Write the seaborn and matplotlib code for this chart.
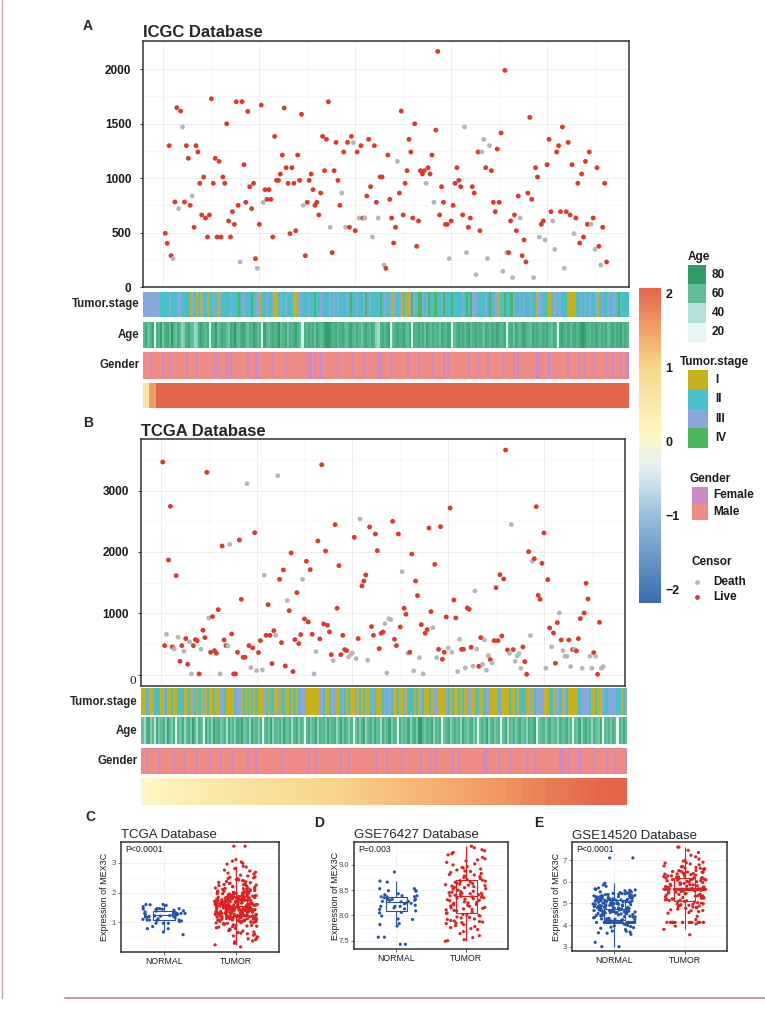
import numpy as np
import pandas as pd
import matplotlib.pyplot as plt
import seaborn as sns
from matplotlib.colors import ListedColormap, LinearSegmentedColormap, Normalize
from matplotlib.cm import ScalarMappable
from matplotlib.patches import Rectangle
from matplotlib.lines import Line2D
from matplotlib.ticker import MultipleLocator

# ---------------- data ----------------
# A: ICGC survival time (days) per sample, ordered by risk score, and censor status (L=Live, D=Death)
icgc_time = [
    495, 403, 1298, 290, 263, 782, 1646, 721, 1615, 1469,
    782, 1298, 1182, 751, 837, 550, 1298, 1240, 953, 663,
    1011, 635, 461, 663, 1728, 953, 1182, 461, 1154, 461,
    1011, 953, 1499, 608, 461, 693, 577, 1701, 751, 232,
    1701, 1124, 779, 1612, 922, 721, 953, 263, 174, 577,
    1670, 779, 895, 806, 895, 806, 461, 1383, 980, 980,
    1038, 1212, 1643, 1096, 953, 492, 1096, 953, 519, 1212,
    980, 1585, 751, 290, 779, 980, 1038, 895, 751, 779,
    663, 864, 1383, 1069, 1356, 1701, 550, 318, 1069, 1328,
    980, 751, 864, 1240, 550, 1328, 550, 1383, 1325, 519,
    1240, 635, 1298, 635, 635, 837, 1356, 922, 461, 1298,
    779, 635, 1011, 1011, 205, 174, 1212, 806, 635, 406,
    550, 1154, 864, 1615, 663, 953, 1069, 1356, 1240, 635,
    1499, 376, 608, 1069, 1038, 1069, 953, 1096, 1038, 1212,
    779, 1441, 2162, 663, 922, 779, 577, 577, 263, 608,
    751, 953, 1096, 980, 922, 663, 1469, 318, 550, 635,
    922, 864, 116, 1240, 519, 1240, 1356, 1096, 263, 1298,
    1069, 779, 693, 1267, 779, 1414, 147, 1988, 318, 318,
    608, 89, 663, 519, 837, 635, 290, 434, 232, 864,
    1557, 806, 89, 1096, 1011, 461, 577, 608, 434, 1124,
    1356, 693, 608, 348, 1240, 1298, 693, 1469, 174, 693,
    1328, 663, 1124, 492, 635, 953, 406, 1038, 461, 1154,
    577, 1240, 577, 635, 348, 1096, 376, 205, 550, 953, 232,
]
icgc_status = ("LLLLDLLDLD" "LLLLDLLLLL" "LLLLLLLLLL" "LLLLLLLLLD" "LLLLLLLLDL"
               "LDLLLLLLLL" "LLLLLLLLLL" "LLDLLLLLLL" "LLLLLLDLLL" "LLDLDLLLDL"
               "LDLLDLLLDL" "LDLLDLLLLL" "LDLLLLLLLL" "LLLLLLDLLL" "DLLLLLLLDL"
               "LLLLLLDDLL" "LLDLLDDLDD" "LLLLLLDLDL" "LDLLLDLLLL" "LLDLLDLLDL"
               "LLDDLLLLDL" "LLLDLLLLLL" "LLDLDLLDLLL")

# B: TCGA survival time (days) and censor status
tcga_time = [
    3467, 473, 658, 1870, 2745, 451, 418, 1614, 609, 217,
    473, 380, 587, 168, 533, 11, 473, 571, 554, 11,
    413, 723, 603, 3299, 924, 364, 946, 391, 348, 1060,
    11, 2098, 565, 473, 467, 2125, 663, 11, 11, 364,
    2196, 1228, 283, 283, 3114, 473, 114, 435, 2315, 65,
    359, 554, 76, 1620, 641, 1141, 641, 179, 717, 641,
    3245, 1554, 522, 1707, 141, 1207, 1043, 1984, 49, 571,
    1337, 505, 652, 1554, 908, 1848, 859, 1712, 658, 11,
    375, 2179, 582, 3424, 826, 2016, 804, 696, 326, 228,
    2446, 1082, 1777, 326, 641, 408, 391, 288, 326, 353,
    2239, 261, 587, 2538, 1446, 1527, 1625, 234, 2408, 783,
    641, 2293, 2022, 424, 674, 696, 832, 27, 913, 897,
    2500, 576, 473, 2293, 777, 1679, 1082, 984, 348, 364,
    1967, 60, 1527, 1288, 277, 815, 11, 674, 734, 2391,
    1027, 766, 1799, 277, 413, 2413, 250, 364, 940, 435,
    2717, 364, 1217, 924, 49, 576, 413, 413, 109, 1087,
    1065, 446, 136, 1364, 418, 136, 603, 168, 565, 71,
    310, 245, 190, 554, 1418, 554, 1630, 630, 1560, 3663,
    402, 348, 2446, 408, 217, 304, 342, 103, 451, 212,
    5, 2005, 636, 1848, 1891, 2739, 1293, 1228, 1815, 2310,
    103, 1549, 761, 451, 679, 185, 848, 1005, 565, 391,
    299, 299, 565, 130, 408, 408, 386, 587, 913, 103,
    1005, 1489, 1234, 299, 103, 359, 299, 5, 853, 103, 130,
]
tcga_status = ("LLDLLLDLDL" "LDLLDDLLLL" "DLLLDLLLLL" "DLLLDDLLLL" "LLLLDLDLLD"
               "LLDDLLLLLD" "DLLLLDLLLL" "LLLDLLLLLD" "DLLLLLLLLD" "LLLLLLLDDD"
               "LDLDLLLDLL" "LLLLLLDDDD" "LLLLLDLLDL" "LDLLDLDLLL" "LDLDLLLLLD"
               "LDLLDDLLDL" "LLDDDLLDDD" "DLDLLLLLLL" "LDDLDDDDLL" "LLDDLLLLLL"
               "DLLDLLLDLD" "DDLDLDLLLD" "LLLDDLDLLDD")

# annotation strips (stage 1-4, age in years, gender F/M, risk score)
icgc_stage = ("3333333322" "2232223322" "2213212132" "1223213222" "2322242322"
              "2423312232" "2311232322" "2113322232" "2422322232" "3232223242"
              "2322342322" "2242322313" "2312113432" "4432342242" "2342224222"
              "2324243322" "2232423312" "2422432232" "3223221332" "2212332322"
              "2111122323" "2322312322" "3233242222")
tcga_stage = ("1123112221" "3211211222" "1121321213" "1211211332" "1111233121"
              "2121211132" "1221312211" "2121233311" "1111332112" "3311232121"
              "1312121123" "2111232321" "1211312221" "2132112133" "1111321211"
              "2121331122" "1123311112" "3111211212" "2211312333" "1112213321"
              "3211111233" "3321121132" "2333322123")

icgc_age = [
    62, 71, 58, 66, 74, 22, 69, 63, 77, 55, 68, 72, 60, 81, 65, 57, 70, 64, 48, 52,
    67, 73, 61, 59, 45, 50, 66, 75, 69, 62, 70, 24, 64, 68, 78, 58, 63, 71, 66, 60,
    55, 72, 67, 80, 64, 59, 69, 73, 62, 57, 68, 65, 76, 70, 61, 66, 22, 74, 63, 58,
    67, 71, 64, 69, 82, 60, 65, 72, 57, 68, 63, 70, 75, 66, 59, 24, 67, 62, 71, 64,
    69, 58, 73, 66, 61, 70, 79, 84, 76, 68, 65, 72, 60, 67, 71, 63, 58, 69, 74, 66,
    62, 70, 64, 57, 68, 73, 66, 61, 72, 65, 50, 44, 67, 70, 63, 69, 75, 22, 60, 66,
    71, 64, 68, 73, 62, 59, 70, 22, 67, 65, 72, 63, 69, 58, 74, 66, 61, 70, 64, 68,
    57, 71, 66, 63, 73, 69, 22, 60, 67, 72, 65, 70, 62, 68, 74, 59, 66, 71, 63, 69,
    64, 58, 72, 67, 61, 70, 65, 73, 68, 62, 66, 71, 22, 64, 69, 57, 73, 66, 60, 70,
    75, 68, 63, 59, 72, 66, 70, 64, 61, 69, 67, 73, 62, 58, 71, 65, 22, 68, 74, 66,
    63, 70, 60, 69, 72, 64, 67, 78, 81, 74, 66, 62, 70, 65, 73, 68, 61, 69, 64, 71,
    58, 67, 72, 63, 70, 66, 75, 62, 69, 65,
]
tcga_age = [
    58, 45, 67, 72, 51, 63, 38, 70, 55, 61, 66, 48, 74, 59, 52, 69, 22, 64, 57, 71,
    47, 62, 68, 53, 76, 60, 44, 65, 58, 22, 70, 56, 63, 49, 73, 61, 67, 54, 59, 66,
    42, 71, 57, 64, 50, 68, 62, 75, 55, 60, 65, 47, 70, 58, 63, 52, 69, 22, 61, 66,
    56, 72, 49, 64, 59, 67, 53, 74, 60, 57, 68, 45, 63, 70, 51, 65, 58, 22, 62, 69,
    54, 61, 73, 48, 66, 59, 64, 52, 71, 57, 63, 68, 46, 60, 75, 55, 67, 62, 50, 65,
    22, 58, 69, 53, 64, 72, 47, 61, 66, 56, 70, 59, 63, 44, 68, 57, 62, 74, 51, 65,
    60, 22, 67, 55, 63, 58, 71, 49, 64, 69, 53, 81, 85, 62, 57, 66, 60, 73, 48, 64,
    59, 68, 22, 56, 63, 70, 52, 61, 67, 58, 65, 47, 72, 60, 55, 64, 69, 51, 63, 22,
    57, 66, 59, 74, 50, 62, 68, 54, 61, 65, 22, 60, 70, 46, 63, 58, 67, 53, 64, 71,
    56, 62, 49, 68, 59, 65, 73, 22, 57, 61, 66, 52, 64, 70, 55, 60, 63, 48, 67, 58,
    62, 69, 54, 65, 22, 61, 57, 72, 50, 64, 68, 59, 63, 47, 66, 60, 55, 71, 22, 62,
    58, 65, 53, 67, 61, 22, 64, 56, 69, 60,
]

icgc_gender = ("MMMFMMMMMF" "MMFMMMMMMM" "FMMMMFMMMM" "MMMFMFMMMF" "MFMMMMMMMF"
               "MMMFFMMMMM" "MFMMMMMFMM" "MMMMMMMMFF" "MFMMFMMMMM" "MMFMMMMMMF"
               "MMMMFMMMMM" "MFFMMMMFMM" "MMMMMFMMMM" "FMMMMMMFMM" "MMFMFMMMMM"
               "MMMMFMMMFM" "MMMFMMMMMM" "FMMMMFMFMM" "MMMMMMFFMM" "MMFMMMMMMM"
               "MFMMMMFMMF" "MMMFMMMMMF" "MMFMMMFMMF")
tcga_gender = ("MMFMMMMMFM" "MMMMMFMMMM" "FMMMMMFMMM" "MMFMMMMFMM" "MMMFMMMMMM"
               "FMMMFMMMMM" "MMMMMMFMMM" "MMMMMMMMMF" "MMFMMMMMMM" "MMMMFMMMFM"
               "MMMMMMMMMM" "MFMMMMFMMM" "MMMFMMMMMM" "MMFMMMFMMF" "MMMMMMMFMM"
               "FMMMMMMMMM" "MMFFMMMMMF" "MMMMFMMMMM" "MMFMMMFMMM" "MMMMMMMMFF"
               "MMFMMMMFMM" "MMMMFMMMMM" "FMMMFMMMMF")

icgc_risk = [0.55, 1.55, 2.10, 2.25, 2.40, 2.50, 2.60, 2.70,
             2.75, 2.80, 2.85, 2.90, 2.95, 3.00, 3.05, 3.10, 3.15, 3.20,
             3.25, 3.30, 3.35, 3.40, 3.45, 3.50, 3.55, 3.60, 3.65, 3.70,
             3.75, 3.80, 3.85, 3.90, 3.95, 4.00, 4.05, 4.10, 4.15, 4.20,
             4.25, 4.30, 4.35, 4.40, 4.45, 4.50, 4.55, 4.60, 4.65, 4.70,
             4.75, 4.80, 4.85, 4.90, 4.95, 5.00, 5.10, 5.20, 5.30, 5.40,
             5.50, 5.60, 5.70, 5.80, 5.90, 6.00, 6.20, 6.40, 6.60, 6.80,
             7.00, 7.20, 7.40, 7.60, 7.80, 8.00, 8.30, 8.60, 9.00, 9.50]
tcga_risk = [0.08, 0.15, 0.20, 0.26, 0.31, 0.36, 0.41, 0.45, 0.50, 0.54,
             0.58, 0.62, 0.66, 0.70, 0.73, 0.77, 0.80, 0.83, 0.86, 0.89,
             0.92, 0.95, 0.98, 1.00, 1.03, 1.06, 1.09, 1.12, 1.15, 1.18,
             1.21, 1.24, 1.27, 1.30, 1.33, 1.36, 1.39, 1.42, 1.45, 1.48,
             1.51, 1.54, 1.57, 1.60, 1.63, 1.67, 1.71, 1.75, 1.79, 1.83,
             1.87, 1.90, 1.93, 1.96, 1.99, 2.02, 2.05, 2.08, 2.10, 2.12]

# C-E: MEX3C expression
tcga_normal = [1.59, 1.53, 1.44, 1.32, 1.21, 0.97, 1.10, 0.68, 0.59, 1.46,
               1.41, 1.17, 1.30, 1.03, 1.08, 1.23, 1.45, 0.79, 0.97, 1.20,
               1.15, 1.28, 1.46, 1.44, 1.08, 1.60, 1.28, 0.79, 1.30, 1.60,
               1.46, 1.08, 1.21, 0.97, 1.57, 1.39, 1.30, 1.06, 0.86, 1.25,
               1.35, 1.12, 1.18, 1.38, 1.26, 1.22, 1.31, 1.05]
tcga_tumor = [
    1.42, 1.87, 1.15, 2.31, 1.63, 0.92, 1.48, 1.96, 1.27, 2.55, 1.71, 1.08, 1.55, 2.12, 1.34,
    0.78, 1.82, 1.45, 2.40, 1.19, 1.66, 1.03, 1.91, 1.38, 2.68, 1.52, 0.64, 1.77, 1.24, 2.05,
    1.59, 1.12, 1.85, 1.41, 2.22, 0.86, 1.69, 1.30, 1.98, 1.50, 2.85, 1.21, 1.74, 1.06, 1.56,
    2.16, 1.35, 0.55, 1.80, 1.47, 1.93, 1.17, 2.47, 1.62, 1.01, 1.44, 2.01, 1.28, 0.97, 1.73,
    1.53, 2.28, 1.10, 1.88, 1.39, 0.71, 1.65, 2.09, 1.23, 1.57, 3.05, 1.46, 1.84, 1.14, 2.36,
    1.68, 0.89, 1.33, 1.95, 1.51, 1.26, 2.18, 1.61, 1.04, 1.79, 1.43, 2.62, 1.20, 0.60, 1.70,
    1.49, 1.90, 1.31, 2.07, 1.58, 0.95, 1.75, 1.18, 2.43, 1.64, 1.37, 1.83, 1.09, 2.25, 1.54,
    0.82, 1.67, 1.99, 1.29, 1.45, 2.75, 1.22, 1.78, 1.02, 1.60, 2.14, 1.36, 0.48, 1.86, 1.40,
    1.97, 1.13, 2.51, 1.55, 0.99, 1.72, 2.03, 1.25, 0.75, 1.81, 1.50, 2.33, 1.07, 1.89, 1.42,
    0.68, 1.63, 2.11, 1.19, 1.59, 2.95, 1.48, 1.76, 1.16, 2.39, 1.66, 0.88, 1.34, 1.92, 1.53,
    1.28, 2.20, 1.57, 1.05, 1.83, 1.41, 2.58, 1.23, 0.57, 1.69, 1.44, 1.94, 1.32, 2.04, 1.61,
    0.93, 1.74, 1.11, 2.46, 1.65, 1.38, 1.85, 1.00, 2.27, 1.52, 0.80, 1.71, 1.96, 1.27, 1.47,
    2.80, 1.18, 1.79, 1.08, 1.58, 2.15, 1.35, 0.42, 1.88, 1.43, 1.91, 1.15, 2.53, 1.56, 1.03,
    1.76, 2.00, 1.30, 0.73, 1.82, 1.46, 2.30, 1.12, 1.87, 1.39, 0.66, 1.62, 2.10, 1.21, 1.54,
    3.10, 1.49, 1.73, 1.14, 2.37, 1.67, 0.90, 1.31, 1.95, 1.51, 1.24, 2.23, 1.60, 1.06, 1.80,
    1.44, 2.65, 1.20, 0.52, 1.70, 1.48, 1.93, 1.33, 2.06, 1.57, 0.96, 1.77, 1.17, 2.42, 1.64,
    1.36, 1.84, 1.04, 2.26, 1.55, 0.84, 1.68, 1.98, 1.26, 1.50, 2.88, 1.22, 1.75, 1.09, 1.63,
    2.13, 1.37, 0.30, 1.89, 1.40, 1.99, 1.13, 2.49, 1.58, 0.98, 1.71, 2.02, 1.28, 0.62, 1.78,
    3.55, 3.55, 0.18, 0.25, 0.35, 0.38, 0.45, 2.98, 3.02, 2.72, 1.52, 1.86, 1.29, 2.08, 1.61,
    1.11, 1.79, 1.43, 2.34, 1.66, 1.41, 1.90, 1.16, 2.19, 1.53, 0.87, 1.73, 1.97, 1.25, 1.46,
]

gse76427_normal = [7.43, 7.57, 7.57, 7.43, 7.79, 8.86, 8.68, 8.53, 8.53, 8.49,
                   8.49, 8.37, 8.37, 8.32, 8.13, 8.20, 8.28, 8.24, 8.27, 8.33,
                   8.18, 8.12, 8.28, 8.39, 8.05, 8.35, 8.66, 8.18, 8.41, 8.32,
                   8.43, 8.37, 8.25, 8.15, 8.32, 7.84, 7.99, 7.92, 7.82, 7.93,
                   8.09, 8.18, 8.23, 8.48, 8.39, 8.30, 8.06, 8.30]
gse76427_tumor = [
    9.37, 8.41, 7.93, 9.05, 8.62, 8.14, 8.88, 7.68, 8.50, 9.22, 8.33, 7.86, 8.70, 8.05, 9.30,
    8.45, 7.99, 8.78, 8.22, 7.52, 8.58, 9.12, 8.37, 7.89, 8.66, 8.10, 8.95, 8.43, 7.74, 8.29,
    9.25, 8.55, 8.01, 8.83, 8.18, 7.60, 8.47, 9.00, 8.34, 7.84, 8.67, 8.12, 8.92, 8.40, 7.78,
    8.26, 9.34, 8.53, 7.96, 8.75, 8.20, 7.49, 8.61, 9.08, 8.38, 7.90, 8.69, 8.07, 8.97, 8.44,
    7.72, 8.31, 9.15, 8.57, 8.02, 8.80, 8.16, 7.56, 8.48, 9.02, 8.35, 7.87, 8.64, 8.11, 8.90,
    8.42, 7.80, 8.27, 9.28, 8.52, 7.95, 8.73, 8.19, 7.64, 8.60, 9.10, 8.36, 7.85, 8.68, 8.13,
    8.85, 8.46, 7.82, 8.30, 9.20, 8.56, 8.00, 8.77, 8.21, 7.50, 8.63, 8.41, 7.92, 8.71, 8.15,
    8.87, 8.39, 7.76, 8.25, 8.59, 8.04, 8.81, 8.24, 7.88, 8.66, 8.09, 8.94, 8.44, 7.97, 8.32,
]

gse14520_normal = [
    5.21, 4.63, 4.12, 5.48, 4.87, 3.96, 5.05, 4.41, 4.12, 5.62, 4.73, 4.28, 5.34, 4.95, 4.12,
    4.56, 5.18, 3.85, 4.66, 5.41, 4.12, 4.83, 5.27, 4.35, 4.98, 3.72, 4.61, 5.12, 4.45, 4.12,
    5.55, 4.77, 4.22, 5.03, 4.12, 4.69, 5.31, 4.52, 3.64, 4.91, 5.44, 4.12, 4.58, 5.09, 4.38,
    4.81, 5.25, 4.12, 4.67, 5.37, 4.02, 4.88, 5.15, 4.31, 4.74, 5.58, 4.12, 4.47, 5.01, 4.93,
    3.93, 4.62, 5.22, 4.12, 4.79, 5.46, 4.25, 4.86, 5.11, 4.54, 4.12, 5.33, 4.71, 4.18, 5.07,
    4.64, 5.29, 3.79, 4.97, 4.43, 5.67, 4.12, 4.57, 5.19, 4.84, 4.33, 5.52, 4.12, 4.76, 4.99,
    5.38, 4.49, 4.12, 5.14, 4.68, 3.88, 4.92, 5.26, 4.12, 4.59, 5.04, 4.37, 5.42, 4.82, 4.12,
    4.65, 5.23, 4.51, 4.95, 5.79, 4.12, 4.72, 5.35, 4.29, 4.89, 5.16, 3.68, 4.61, 5.47, 4.12,
    4.78, 5.09, 4.41, 4.94, 5.31, 4.12, 4.55, 5.20, 4.85, 4.24, 5.60, 4.12, 4.70, 5.02, 4.46,
    4.90, 5.40, 3.57, 4.63, 5.13, 4.12, 4.80, 5.28, 4.36, 4.97, 5.50, 4.12, 4.58, 5.06, 4.75,
    5.85, 3.98, 4.67, 5.24, 4.12, 4.87, 5.36, 4.44, 4.12, 5.10, 3.20, 3.00, 3.00, 3.62, 3.71,
    3.90, 4.05, 5.93, 5.71, 5.64, 4.12, 4.53, 5.17, 4.83, 4.27, 5.45, 4.12, 4.69, 5.00, 4.39,
    4.96, 5.32, 4.12, 4.60, 5.08, 4.74, 5.53, 4.20, 4.88, 5.19, 7.10, 7.10,
]
gse14520_tumor = [
    5.65, 6.12, 5.34, 4.88, 6.45, 5.65, 5.92, 4.12, 6.78, 5.21, 5.65, 6.33, 4.95, 5.78, 6.05,
    5.48, 4.12, 6.62, 5.65, 5.12, 6.21, 5.87, 4.67, 5.65, 6.95, 5.41, 6.08, 4.12, 5.72, 5.29,
    6.51, 5.65, 4.83, 6.17, 5.58, 7.05, 5.03, 5.65, 6.38, 4.12, 5.95, 5.36, 6.27, 4.74, 5.65,
    6.70, 5.18, 5.83, 4.12, 6.02, 5.65, 6.44, 4.98, 5.52, 6.15, 5.65, 7.22, 4.55, 5.91, 5.25,
    6.58, 5.65, 4.12, 6.11, 5.44, 5.76, 6.86, 4.91, 5.65, 6.24, 5.09, 5.65, 6.40, 4.12, 5.85,
    5.32, 6.66, 5.65, 4.79, 6.00, 5.57, 6.30, 5.65, 4.12, 5.15, 6.90, 5.65, 5.69, 4.62, 6.19,
    5.38, 5.65, 6.52, 4.12, 5.98, 5.27, 6.35, 5.65, 4.86, 6.08, 7.35, 5.65, 5.46, 4.12, 6.73,
    5.62, 5.06, 6.27, 5.65, 4.70, 5.81, 6.47, 5.65, 4.12, 5.33, 6.14, 5.65, 6.98, 4.94, 5.55,
    6.22, 5.65, 4.12, 5.88, 6.60, 5.20, 5.65, 6.04, 4.58, 5.74, 7.60, 7.60, 3.55, 3.80, 3.95,
    4.05, 4.25, 4.40, 7.45, 7.15, 5.65, 6.36, 4.12, 5.90, 5.13, 6.55, 5.65, 4.82, 6.10, 5.42,
    6.82, 5.65, 4.12, 5.67, 6.26, 5.01, 5.65, 6.43, 4.66, 5.96, 5.30, 5.65, 6.18, 4.12, 5.79,
    6.69, 5.65, 5.16, 6.31, 4.90, 5.65, 6.07, 4.12, 5.51, 6.48, 5.65, 5.23, 6.87, 4.77, 5.86,
    5.65, 6.16, 4.12, 5.60, 6.39, 5.08, 5.65, 6.63, 4.97, 5.71,
]

# legend levels
age_breaks = [80, 60, 40, 20]
stage_levels = ["I", "II", "III", "IV"]
gender_levels = ["Female", "Male"]
censor_levels = ["Death", "Live"]

# ---------------- style ----------------
RED = "#e2382b"
GREY = "#b7b7b7"
BLUE = "#2353ad"
PT_RED = "#e01f1f"
AGE_COLORS = ["#2e9e66", "#5fbd98", "#b3dfdc", "#e8f6f6"]
STAGE_COLORS = ["#c8b21c", "#49bfca", "#88a8dd", "#4cb85c"]
GENDER_COLORS = ["#c98bc8", "#f08c84"]
CENSOR_COLORS = {"Death": GREY, "Live": RED}
CENSOR_MAP = {"D": "Death", "L": "Live"}

RISK_MIN, RISK_MAX = -2.18, 2.08
risk_pts = [(-2.18, "#3b6cb0"), (-1.0, "#96c0dc"), (-0.35, "#e3f1f3"), (0.1, "#fdf7c4"),
            (1.0, "#f8d68c"), (1.6, "#f19a63"), (2.08, "#e4654a")]
risk_cmap = LinearSegmentedColormap.from_list(
    "risk", [((v - RISK_MIN) / (RISK_MAX - RISK_MIN), c) for v, c in risk_pts])
age_cmap = LinearSegmentedColormap.from_list(
    "age", [(0.0, AGE_COLORS[3]), (1 / 3, AGE_COLORS[2]), (2 / 3, AGE_COLORS[1]), (1.0, AGE_COLORS[0])])

sns.set_theme(style="white")
plt.rcParams["font.family"] = ["Liberation Sans", "DejaVu Sans"]
np.random.seed(11)

W, H = 765, 1015
fig = plt.figure(figsize=(W / 100, H / 100), dpi=100)


def px_axes(x0, y0, x1, y1):
    return fig.add_axes([x0 / W, 1 - y1 / H, (x1 - x0) / W, (y1 - y0) / H])


def px_text(x, y, s, **kw):
    fig.text(x / W, 1 - y / H, s, **kw)


def survival_panel(rect, times, status, ylim, major, title, letter, letter_xy):
    ax = px_axes(*rect)
    n = min(len(times), len(status))
    df = pd.DataFrame({"sample": np.arange(1, n + 1), "time": times[:n],
                       "censor": [CENSOR_MAP[c] for c in status[:n]]})
    sns.scatterplot(data=df, x="sample", y="time", hue="censor", palette=CENSOR_COLORS,
                    s=12, linewidth=0, legend=False, ax=ax, zorder=3)
    pad = 0.05 * (n - 1)
    ax.set_xlim(1 - pad, n + pad)
    ax.set_ylim(*ylim)
    ax.xaxis.set_major_locator(MultipleLocator(50))
    ax.xaxis.set_minor_locator(MultipleLocator(25))
    ticks = list(range(0, int(ylim[1]) + 1, major))
    ax.set_yticks(ticks)
    ax.set_yticklabels([str(t) for t in ticks], fontweight="bold")
    ax.yaxis.set_minor_locator(MultipleLocator(major / 2))
    ax.grid(which="major", color="#ebebeb", linewidth=0.6)
    ax.grid(which="minor", color="#f4f4f4", linewidth=0.4)
    ax.set_axisbelow(True)
    ax.tick_params(axis="x", which="both", length=0, labelbottom=False)
    ax.tick_params(axis="y", which="major", left=True, length=2.5, width=0.6, pad=6,
                   labelsize=8.5, colors="#1a1a1a")
    ax.tick_params(axis="y", which="minor", length=0)
    for sp in ax.spines.values():
        sp.set_color("#333333")
        sp.set_linewidth(1.1)
    ax.set_xlabel("")
    ax.set_ylabel("")
    ax.set_title(title, loc="left", fontsize=12, fontweight="bold", pad=2.5)
    px_text(*letter_xy, letter, fontsize=10, fontweight="bold", ha="center", va="center")
    return ax


def strip(x0, x1, y0, y1, values, cmap, vmin, vmax, label=None):
    ax = px_axes(x0, y0, x1, y1)
    sns.heatmap(np.array([values], dtype=float), cmap=cmap, vmin=vmin, vmax=vmax,
                cbar=False, xticklabels=False, yticklabels=False, ax=ax)
    if label:
        px_text(x0 - 4, (y0 + y1) / 2, label, ha="right", va="center",
                fontsize=8.3, fontweight="bold")


def annotation_block(x0, x1, rows, stage, age, gender, risk):
    stage_cmap = ListedColormap(STAGE_COLORS)
    gender_cmap = ListedColormap(GENDER_COLORS)
    strip(x0, x1, *rows[0], [int(s) for s in stage], stage_cmap, 0.5, 4.5, "Tumor.stage")
    strip(x0, x1, *rows[1], age, age_cmap, 20, 80, "Age")
    strip(x0, x1, *rows[2], [0 if g == "F" else 1 for g in gender], gender_cmap, -0.5, 1.5, "Gender")
    strip(x0, x1, *rows[3], risk, risk_cmap, RISK_MIN, RISK_MAX)


# ---------------- A: ICGC ----------------
survival_panel((143.2, 40.7, 628.6, 287.3), icgc_time, icgc_status, (0, 2260), 500,
               "ICGC Database", "A", (88, 26))
annotation_block(143.2, 628.6, [(291.7, 317.3), (321.7, 348.3), (352, 379), (382.7, 408.3)],
                 icgc_stage, icgc_age, icgc_gender, icgc_risk)

# ---------------- B: TCGA ----------------
axb = survival_panel((140.7, 439.3, 625.3, 686), tcga_time, tcga_status, (-186, 3838), 1000,
                     "TCGA Database", "B", (87.7, 423))
axb.set_yticklabels(["", "1000", "2000", "3000"], fontweight="bold")
px_text(136, 681.5, "0", ha="right", va="center", fontsize=9.5,
        family=["Liberation Serif", "DejaVu Serif"])
annotation_block(141.4, 627, [(688.3, 715), (717.3, 744.3), (747.7, 774.3), (777.7, 805)],
                 tcga_stage, tcga_age, tcga_gender, tcga_risk)

# ---------------- colour bar + legends ----------------
cax = px_axes(639, 288, 661, 603)
cb = fig.colorbar(ScalarMappable(norm=Normalize(RISK_MIN, RISK_MAX), cmap=risk_cmap), cax=cax)
cb.outline.set_visible(False)
cb.set_ticks([-2, -1, 0, 1, 2])
cb.ax.set_yticklabels(["\u22122", "\u22121", "0", "1", "2"], fontweight="bold")
cb.ax.tick_params(length=0, pad=3, labelsize=9, colors="#1a1a1a")

lax = px_axes(668, 240, 765, 612)
lax.set_xlim(668, 765)
lax.set_ylim(612, 240)
lax.axis("off")
lab_kw = dict(fontsize=8.5, fontweight="bold", va="center", color="#1a1a1a")

lax.text(688, 257, "Age", ha="left", **lab_kw)
for i, (b, c) in enumerate(zip(age_breaks, AGE_COLORS)):
    lax.add_patch(Rectangle((688, 265 + i * 19.2), 18, 19.2, color=c, lw=0))
    lax.text(712, 274.6 + i * 19.2, str(b), ha="left", **lab_kw)

lax.text(680, 362, "Tumor.stage", ha="left", **lab_kw)
for i, (s, c) in enumerate(zip(stage_levels, STAGE_COLORS)):
    lax.add_patch(Rectangle((688, 370 + i * 19.5), 20, 19.5, color=c, lw=0))
    lax.text(715, 379.7 + i * 19.5, s, ha="left", **lab_kw)

lax.text(689, 479, "Gender", ha="left", **lab_kw)
for i, (g, c) in enumerate(zip(gender_levels, GENDER_COLORS)):
    lax.add_patch(Rectangle((692, 487 + i * 16.5), 16, 16.5, color=c, lw=0))
    lax.text(713, 495.2 + i * 16.5, g, ha="left", **lab_kw)

lax.text(691, 562, "Censor", ha="left", **lab_kw)
for i, lvl in enumerate(censor_levels):
    lax.scatter([697], [582 + i * 15], s=12, color=CENSOR_COLORS[lvl], linewidth=0)
    lax.text(713, 582 + i * 15, lvl, ha="left", **lab_kw)


# ---------------- C-E: expression ----------------
def expr_panel(rect, normal, tumor, ylim, yticks, ylabels, minor, title, ptext,
               letter, letter_xy, ylab_x):
    ax = px_axes(*rect)
    df = pd.DataFrame({"group": ["NORMAL"] * len(normal) + ["TUMOR"] * len(tumor),
                       "value": list(normal) + list(tumor)})
    pal = {"NORMAL": BLUE, "TUMOR": PT_RED}
    sns.boxplot(data=df, x="group", y="value", hue="group", palette=pal, fill=False,
                width=0.3, linewidth=0.8, showfliers=False, showcaps=False,
                legend=False, ax=ax)
    sns.stripplot(data=df, x="group", y="value", hue="group", palette=pal, jitter=0.3,
                  size=2.3, linewidth=0, legend=False, ax=ax)
    ax.set_xlim(-0.6, 1.6)
    ax.set_ylim(*ylim)
    ax.set_yticks(yticks)
    ax.set_yticklabels(ylabels)
    ax.yaxis.set_minor_locator(MultipleLocator(minor))
    ax.grid(which="major", color="#ebebeb", linewidth=0.5)
    ax.grid(which="minor", axis="y", color="#f4f4f4", linewidth=0.4)
    ax.set_axisbelow(True)
    ax.tick_params(axis="y", which="major", left=True, length=2, width=0.5, pad=1.5,
                   labelsize=5.5, colors="#4d4d4d")
    ax.tick_params(axis="y", which="minor", length=0)
    ax.tick_params(axis="x", bottom=True, length=2, width=0.5, pad=1.5, labelsize=6.3,
                   colors="#1a1a1a")
    for sp in ax.spines.values():
        sp.set_color("#333333")
        sp.set_linewidth(1.1)
    ax.set_xlabel("")
    ax.set_ylabel("Expression of MEX3C", fontsize=6.5, color="#1a1a1a")
    ax.yaxis.set_label_coords(ylab_x, 0.5)
    ax.set_title(title, loc="left", fontsize=9.5, pad=2.5)
    ax.text(0.03, 0.93, ptext, transform=ax.transAxes, fontsize=6.2, va="center",
            color="#1a1a1a")
    px_text(*letter_xy, letter, fontsize=10, fontweight="bold", ha="center", va="center")


expr_panel((120.7, 841.7, 279.3, 952.3), tcga_normal, tcga_tumor, (0.0, 3.7),
           [1, 2, 3], ["1", "2", "3"], 0.5, "TCGA Database", "P<0.0001",
           "C", (90.7, 817), -0.075)
expr_panel((354, 841.7, 508.3, 949.3), gse76427_normal, gse76427_tumor, (7.33, 9.46),
           [7.5, 8.0, 8.5, 9.0], ["7.5", "8.0", "8.5", "9.0"], 0.25, "GSE76427 Database",
           "P=0.003", "D", (319, 822.7), -0.09)
expr_panel((571.7, 842.3, 727.3, 951), gse14520_normal, gse14520_tumor, (2.8, 7.82),
           [3, 4, 5, 6, 7], ["3", "4", "5", "6", "7"], 0.5, "GSE14520 Database",
           "P<0.0001", "E", (538.3, 823.3), -0.068)

# page frame lines
fig.add_artist(Line2D([65 / W, 1.0], [1 - 998 / H] * 2, color="#c48c9f", linewidth=1.3))
fig.add_artist(Line2D([1.5 / W] * 2, [1.0, 1 - 998 / H], color="#cfa3b5", linewidth=1.0))

fig.savefig("out.png", dpi=100, facecolor="white")
